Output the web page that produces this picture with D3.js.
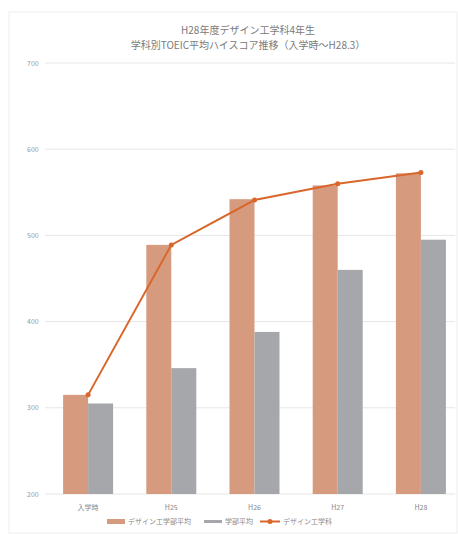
<!DOCTYPE html>
<html><head><meta charset="utf-8">
<script src="https://cdn.jsdelivr.net/npm/d3@7"></script>
<style>body{margin:0;background:#fff}svg{display:block}</style>
</head><body>
<svg id="c" width="458" height="534"></svg>
<script>
const categories = ["入学時", "H25", "H26", "H27", "H28"];
const facultyAvg = [315, 489, 542, 558, 572];
const deptAvg = [305, 346, 388, 460, 495];
const courseAvg = [315, 489, 541, 560, 573];
const yTicks = [200, 300, 400, 500, 600, 700];
const titleLines = ["H28年度デザイン工学科4年生", "学科別TOEIC平均ハイスコア推移（入学時～H28.3）"];
const legendLabels = ["デザイン工学部平均", "学部平均", "デザイン工学科"];

const svg = d3.select("#c");
const font = "'Noto Sans CJK JP', sans-serif";
svg.append("rect").attr("x",9).attr("y",12).attr("width",448).attr("height",521)
  .attr("fill","#fff").attr("stroke","#ededed");

const x = d3.scaleBand().domain(categories).range([46.5, 462.5]);
const y = d3.scaleLinear().domain([200, 700]).range([494, 63]);

svg.append("g").selectAll("line").data(yTicks).join("line")
  .attr("x1", 45).attr("x2", 455)
  .attr("y1", d => y(d)).attr("y2", d => y(d))
  .attr("stroke", "#e6e6e6").attr("stroke-width", 1);
svg.append("g").selectAll("text").data(yTicks).join("text")
  .attr("x", 27).attr("y", d => y(d) + 2.5)
  .attr("font-size", 7).attr("fill", "#9a9a9a").attr("font-family", font)
  .text(d => d);

const bw = 25;
svg.append("g").selectAll("rect").data(facultyAvg).join("rect")
  .attr("x", (d,i) => x(categories[i]) + x.bandwidth()/2 - bw)
  .attr("width", bw).attr("y", d => y(d)).attr("height", d => y(200) - y(d))
  .attr("fill", "#d69b7f");
svg.append("g").selectAll("rect").data(deptAvg).join("rect")
  .attr("x", (d,i) => x(categories[i]) + x.bandwidth()/2)
  .attr("width", bw).attr("y", d => y(d)).attr("height", d => y(200) - y(d))
  .attr("fill", "#a6a7ab");

const line = d3.line().x((d,i) => x(categories[i]) + x.bandwidth()/2).y(d => y(d));
svg.append("path").datum(courseAvg).attr("d", line)
  .attr("fill", "none").attr("stroke", "#d9662b").attr("stroke-width", 2);
svg.append("g").selectAll("circle").data(courseAvg).join("circle")
  .attr("cx", (d,i) => x(categories[i]) + x.bandwidth()/2).attr("cy", d => y(d))
  .attr("r", 2.5).attr("fill", "#d9662b");

svg.append("g").selectAll("text").data(categories).join("text")
  .attr("x", d => x(d) + x.bandwidth()/2).attr("y", 510)
  .attr("text-anchor", "middle").attr("font-size", 7).attr("fill", "#888")
  .attr("font-family", font).text(d => d);

svg.append("g").selectAll("text").data(titleLines).join("text")
  .attr("x", 248).attr("y", (d,i) => 34 + i*15)
  .attr("text-anchor", "middle").attr("font-size", 10).attr("fill", "#7a7a7a")
  .attr("font-family", font).text(d => d);

const lg = svg.append("g").attr("font-family", font).attr("font-size", 7).attr("fill", "#888");
lg.append("rect").attr("x", 107).attr("y", 519).attr("width", 18).attr("height", 5).attr("fill", "#d69b7f");
lg.append("text").attr("x", 128).attr("y", 524).text(legendLabels[0]);
lg.append("rect").attr("x", 204).attr("y", 520).attr("width", 18).attr("height", 3).attr("fill", "#a6a7ab");
lg.append("text").attr("x", 225).attr("y", 524).text(legendLabels[1]);
lg.append("line").attr("x1", 260).attr("x2", 280).attr("y1", 521.5).attr("y2", 521.5).attr("stroke", "#d9662b").attr("stroke-width", 2);
lg.append("circle").attr("cx", 270).attr("cy", 521.5).attr("r", 2.5).attr("fill", "#d9662b");
lg.append("text").attr("x", 283).attr("y", 524).text(legendLabels[2]);
</script>
</body></html>
